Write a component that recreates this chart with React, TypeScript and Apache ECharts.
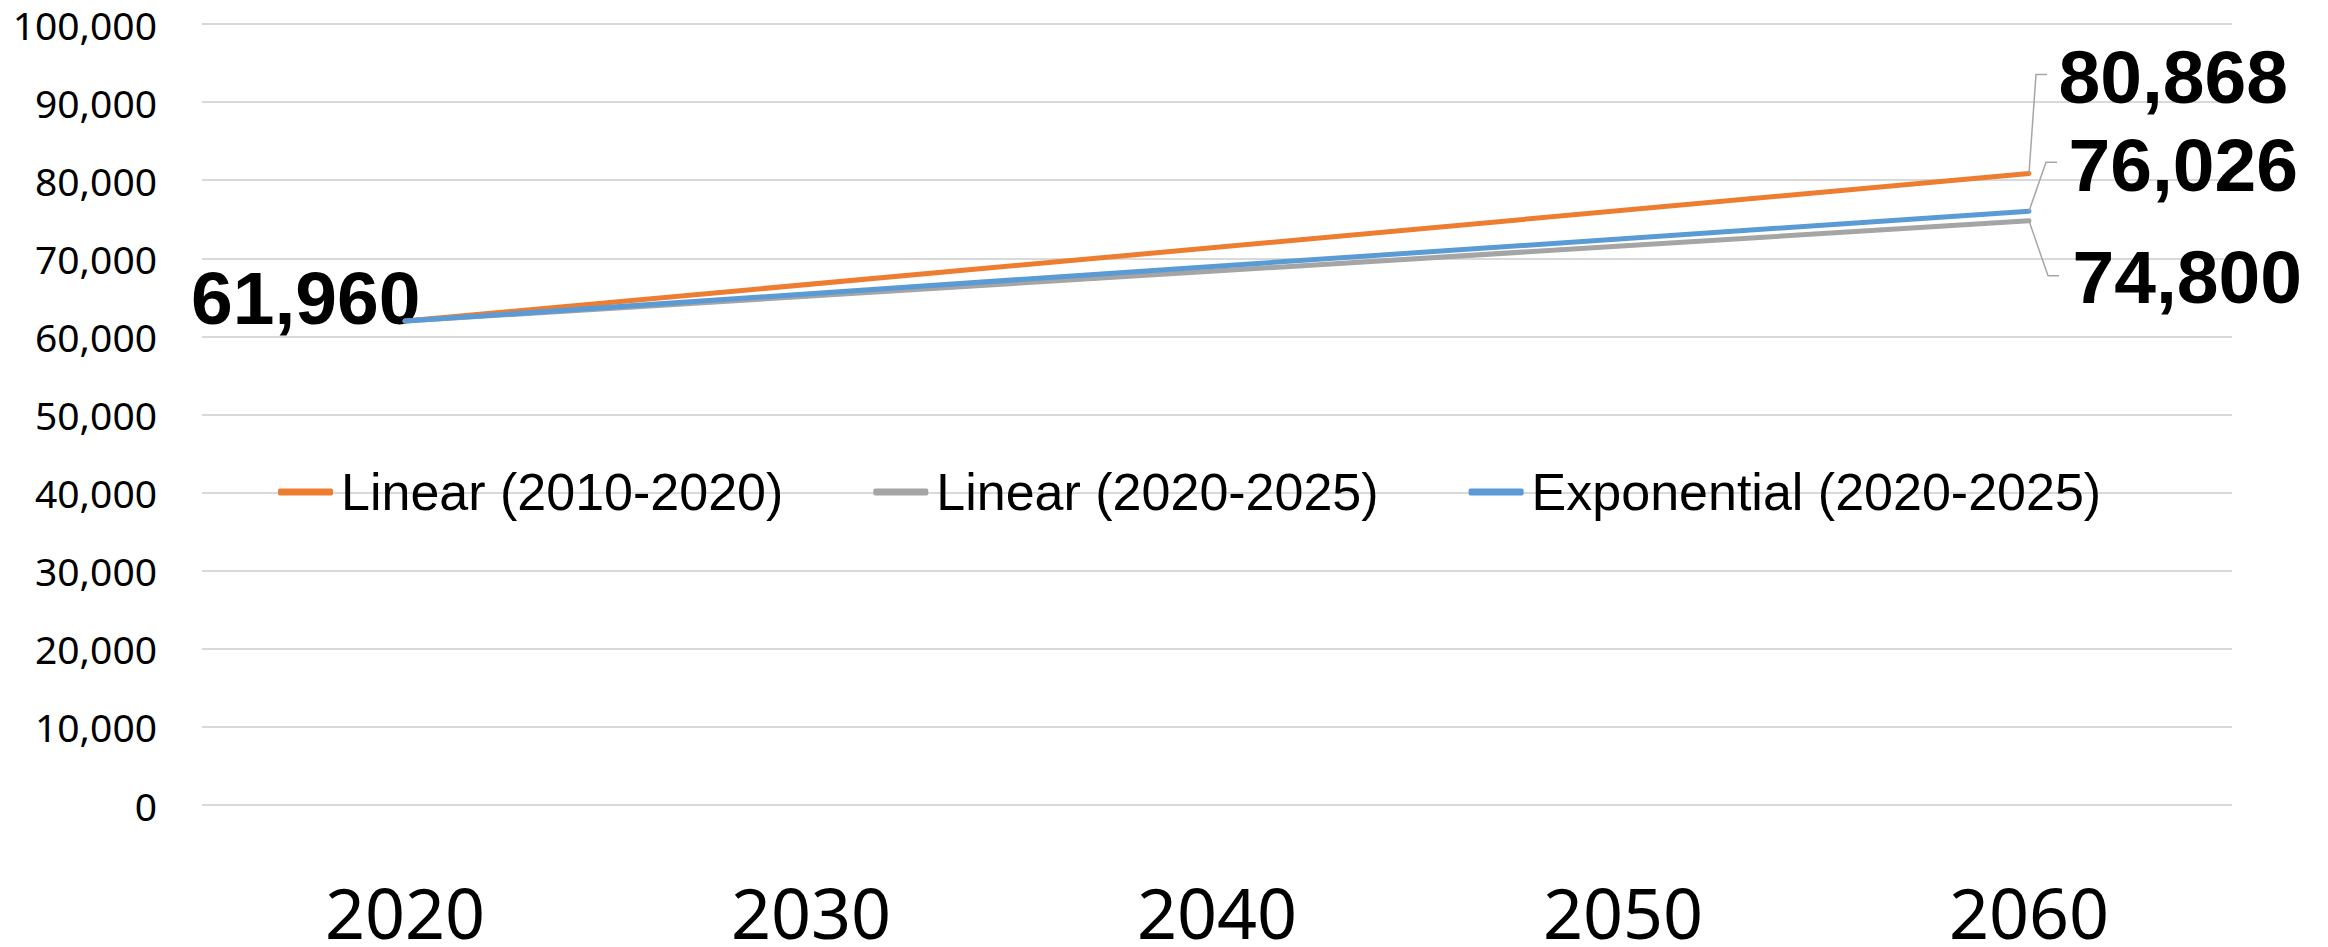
import React, { useEffect, useRef } from 'react';
import * as echarts from 'echarts';

const years = ['2020', '2030', '2040', '2050', '2060'];
const seriesNames = ['Linear (2010-2020)', 'Linear (2020-2025)', 'Exponential (2020-2025)'];
const linear20102020 = [61960, null, null, null, 80868];
const linear20202025 = [61960, null, null, null, 74800];
const exponential20202025 = [61960, null, null, null, 76026];
const seriesValues = [linear20102020, linear20202025, exponential20202025];
const colors = ['#ED7D31', '#A5A5A5', '#5B9BD5'];
const yMin = 0;
const yMax = 100000;
const yStep = 10000;

// styling: label offsets and leader line bends (pixels, relative to the data point)
const endLabelOffsets = [[24, -96], [38, 56], [34, -46]];
const leaderBends = [[7, -99], [19, 55], [17, -49]];
const leaderStub = 11;
const startLabelOffset = [21, -23];

const fmt = (v: number) => v.toLocaleString('en-US');

const bigLabel = {
  fontFamily: 'Liberation Sans',
  fontWeight: 'bold' as const,
  fontSize: 75,
  lineHeight: 70,
  color: '#000',
};

export default function App() {
  const ref = useRef<HTMLDivElement>(null);
  useEffect(() => {
    document.body.style.margin = '0';
    if (!ref.current) return;
    const chart = echarts.init(ref.current, undefined, { renderer: 'svg' });
    const last = years.length - 1;
    const series = seriesValues.map((vals, s) => ({
      name: seriesNames[s],
      type: 'line',
      connectNulls: true,
      symbol: 'circle',
      symbolSize: 1,
      showSymbol: true,
      color: colors[s],
      lineStyle: { width: 5, color: colors[s], cap: 'round' },
      itemStyle: { color: colors[s] },
      z: 2 + s,
      data: vals.map((v, i) => {
        if (v === null) return null;
        if (i === last) {
          return {
            value: v,
            label: {
              show: true,
              position: 'right',
              offset: endLabelOffsets[s],
              formatter: () => fmt(v),
              ...bigLabel,
            },
          };
        }
        if (i === 0 && s === 0) {
          return {
            value: v,
            label: {
              show: true,
              position: 'left',
              offset: startLabelOffset,
              formatter: () => fmt(v),
              ...bigLabel,
            },
          };
        }
        return v;
      }),
    }));
    chart.setOption({
      animation: false,
      grid: { left: 202, right: 96, top: 24, bottom: 139, containLabel: false },
      legend: {
        data: seriesNames,
        left: 273,
        top: 461,
        icon: 'roundRect',
        itemWidth: 55,
        itemHeight: 7,
        itemGap: 90,
        textStyle: {
          fontFamily: 'Liberation Sans',
          fontSize: 52,
          color: '#000',
          padding: [0, 0, 0, 3],
        },
      },
      xAxis: {
        type: 'category',
        data: years,
        boundaryGap: true,
        axisLine: { show: false },
        axisTick: { show: false },
        axisLabel: {
          fontFamily: 'Noto Sans',
          fontSize: 70,
          lineHeight: 56,
          color: '#000',
          margin: 79,
        },
      },
      yAxis: {
        type: 'value',
        min: yMin,
        max: yMax,
        interval: yStep,
        axisLine: { show: false },
        axisTick: { show: false },
        splitLine: { lineStyle: { color: '#D9D9D9', width: 2 } },
        axisLabel: {
          fontFamily: 'Noto Sans',
          fontSize: 39,
          lineHeight: 36,
          color: '#000',
          margin: 45,
          formatter: (v: number) => fmt(v),
        },
      },
      series,
    });
    const graphics = seriesValues.map((vals, s) => {
      const p = chart.convertToPixel({ seriesIndex: s }, [last, vals[last] as number]) as number[];
      const b = [p[0] + leaderBends[s][0], p[1] + leaderBends[s][1]];
      return {
        type: 'polyline',
        silent: true,
        z: 10,
        shape: { points: [p, b, [b[0] + leaderStub, b[1]]] },
        style: { stroke: '#A6A6A6', lineWidth: 1.5, fill: 'none' },
      };
    });
    chart.setOption({ graphic: graphics });
    return () => chart.dispose();
  }, []);
  return <div ref={ref} style={{ width: 2328, height: 947 }} />;
}
